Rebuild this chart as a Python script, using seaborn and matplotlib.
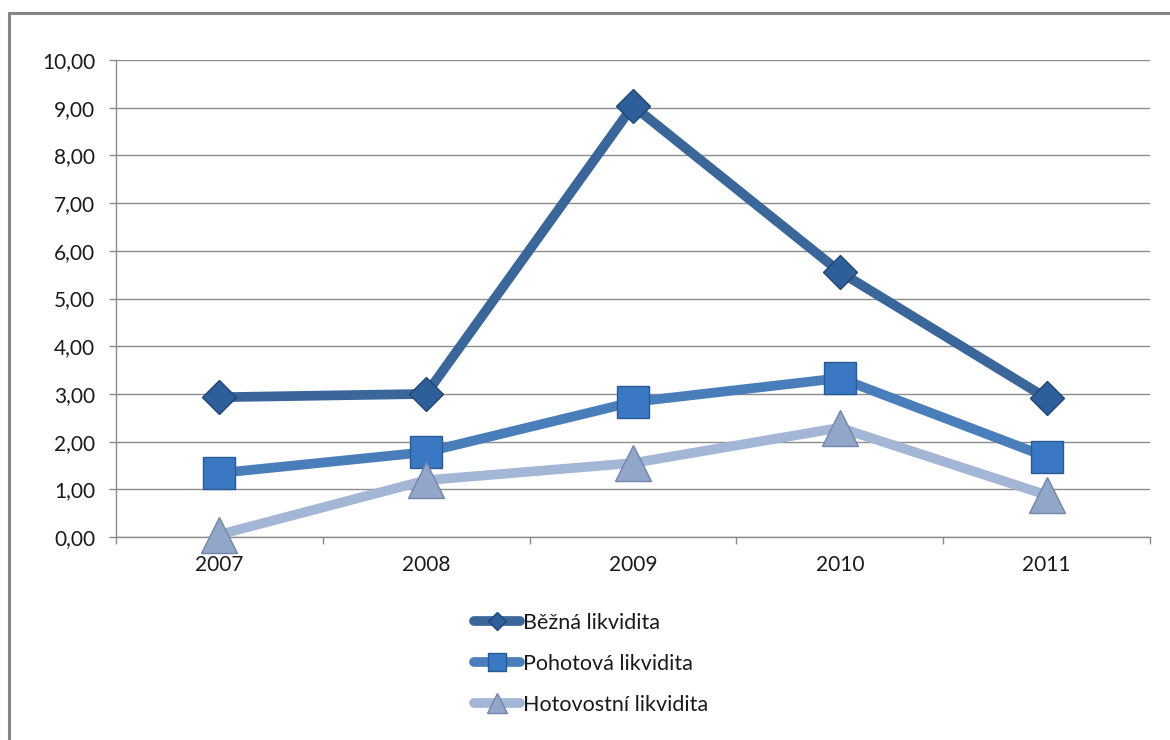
import numpy as np
import pandas as pd
import matplotlib
matplotlib.use("Agg")
import matplotlib.pyplot as plt
import seaborn as sns
from matplotlib.patches import Rectangle

# data
years = [2007, 2008, 2009, 2010, 2011]
bezna = [2.93, 3.00, 9.04, 5.56, 2.91]
pohotova = [1.34, 1.78, 2.83, 3.33, 1.68]
hotovostni = [0.05, 1.19, 1.55, 2.29, 0.88]
series_names = ["Běžná likvidita", "Pohotová likvidita", "Hotovostní likvidita"]
y_ticks = [0, 1, 2, 3, 4, 5, 6, 7, 8, 9, 10]
y_tick_labels = ["0,00", "1,00", "2,00", "3,00", "4,00", "5,00",
                 "6,00", "7,00", "8,00", "9,00", "10,00"]

sns.set_theme(style="white")
plt.rcParams['font.family'] = ['Lato', 'DejaVu Sans']

fig = plt.figure(figsize=(11.7, 7.4), dpi=100)
ax = fig.add_axes([116 / 1170, 203 / 740, 1034 / 1170, 477 / 740])

styles = [
    dict(color="#3A6699", marker="D", ms=17, mfc="#2F5F9A", mec="#22466f"),
    dict(color="#4A7EBB", marker="s", ms=23, mfc="#3A78C4", mec="#2a5a92"),
    dict(color="#A4B6D5", marker="^", ms=26, mfc="#92A6CA", mec="#7486a8"),
]

for name, vals, st in zip(series_names, [bezna, pohotova, hotovostni], styles):
    sns.lineplot(x=years, y=vals, ax=ax, color=st["color"], lw=7,
                 marker=st["marker"], markersize=st["ms"],
                 markerfacecolor=st["mfc"], markeredgecolor=st["mec"],
                 markeredgewidth=1, label=name, zorder=3, clip_on=False)

ax.set_xlim(2006.5, 2011.5)
ax.set_ylim(0, 10)
ax.set_yticks(y_ticks)
ax.set_yticklabels(y_tick_labels)
ax.set_xticks(years)
ax.set_xticklabels([str(y) for y in years])
ax.set_xticks([2006.5 + k for k in range(6)], minor=True)

ax.yaxis.grid(True, color="#8c8c8c", lw=1)
ax.set_axisbelow(True)
for s in ["top", "right"]:
    ax.spines[s].set_visible(False)
for s in ["left", "bottom"]:
    ax.spines[s].set_color("#8c8c8c")
    ax.spines[s].set_linewidth(1)

ax.tick_params(axis="y", which="major", left=True, length=5, width=1,
               color="#8c8c8c", pad=10, labelsize=15, labelcolor="#1a1a1a")
ax.tick_params(axis="x", which="major", bottom=False, length=0, pad=13,
               labelsize=15, labelcolor="#1a1a1a")
ax.tick_params(axis="x", which="minor", bottom=True, length=5, width=1,
               color="#8c8c8c")
ax.set_xlabel("")
ax.set_ylabel("")

leg = ax.legend(loc="upper left", bbox_to_anchor=(463 / 1170, 1 - 602 / 740),
                bbox_transform=fig.transFigure, frameon=False, fontsize=15.5,
                markerscale=0.55, handlelength=2.15, handletextpad=0.12,
                labelspacing=0.98, borderpad=0)
for t in leg.get_texts():
    t.set_color("#1a1a1a")

# outer chart frame
fig.patches.append(Rectangle((9 / 1170, -0.1), 1.2, 0.1 + 1 - 13 / 740,
                             transform=fig.transFigure, fill=False,
                             edgecolor="#868686", lw=2.2, zorder=10))

fig.savefig("out.png", dpi=100)
